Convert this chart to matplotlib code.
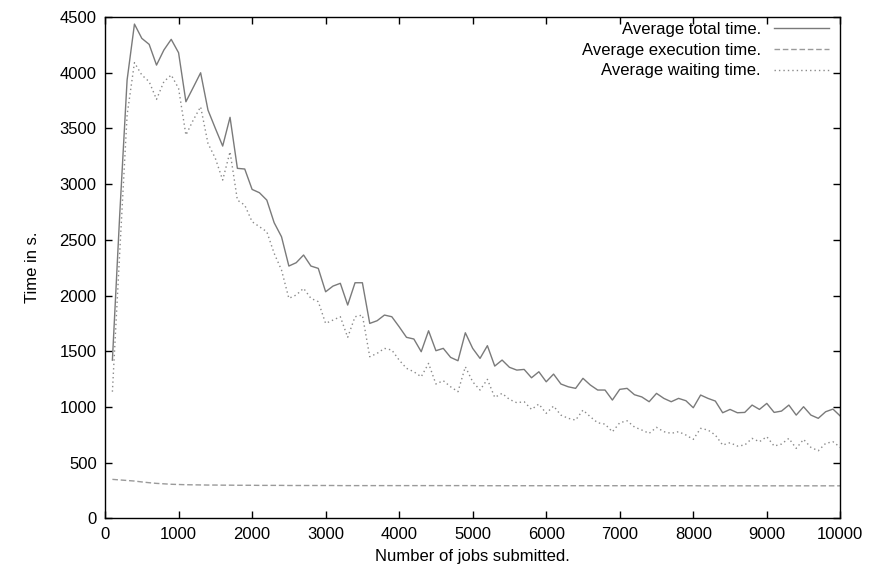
import matplotlib
matplotlib.use("Agg")
import matplotlib.pyplot as plt
import numpy as np

jobs = list(range(100, 10001, 100))

total_time = [
    1420, 2730, 3935, 4437, 4309, 4255, 4069, 4204, 4300, 4180,
    3740, 3869, 4000, 3665, 3501, 3342, 3600, 3142, 3136, 2953,
    2923, 2857, 2654, 2528, 2265, 2295, 2364, 2265, 2244, 2034,
    2085, 2110, 1915, 2115, 2115, 1750, 1774, 1825, 1810, 1720,
    1625, 1610, 1496, 1684, 1505, 1526, 1445, 1415, 1666, 1526,
    1436, 1550, 1367, 1421, 1356, 1331, 1337, 1262, 1316, 1226,
    1295, 1206, 1181, 1167, 1257, 1197, 1152, 1152, 1062, 1158,
    1167, 1110, 1090, 1047, 1122, 1077, 1047, 1077, 1056, 993,
    1107, 1077, 1053, 948, 978, 948, 951, 1017, 978, 1032,
    951, 963, 1017, 927, 1002, 927, 898, 957, 981, 918,
]

execution_time = [
    350, 345, 340, 335, 327, 320, 314, 310, 306, 304,
    302, 301, 300, 299, 299, 298, 298, 297, 297, 297,
    296, 296, 296, 296, 295, 295, 295, 295, 295, 295,
    295, 294, 294, 294, 294, 294, 294, 294, 294, 294,
    294, 294, 294, 294, 294, 294, 294, 294, 294, 294,
    293, 293, 293, 293, 293, 293, 293, 293, 293, 293,
    293, 293, 293, 293, 293, 293, 293, 293, 293, 293,
    293, 293, 293, 293, 293, 293, 293, 293, 293, 293,
    292, 292, 292, 292, 292, 292, 292, 292, 292, 292,
    292, 292, 292, 292, 292, 292, 292, 292, 292, 292,
]

waiting_time = [
    1137, 2390, 3620, 4091, 3980, 3920, 3761, 3920, 3980, 3860,
    3441, 3576, 3695, 3366, 3232, 3037, 3291, 2857, 2812, 2663,
    2618, 2573, 2379, 2229, 1975, 2005, 2065, 1975, 1945, 1750,
    1780, 1810, 1625, 1810, 1825, 1451, 1481, 1526, 1511, 1421,
    1347, 1316, 1271, 1391, 1206, 1236, 1181, 1137, 1361, 1226,
    1152, 1248, 1086, 1122, 1068, 1038, 1047, 978, 1026, 943,
    1008, 927, 898, 882, 972, 912, 858, 846, 777, 858,
    876, 820, 793, 763, 817, 778, 763, 778, 748, 709,
    808, 793, 748, 658, 679, 649, 658, 718, 688, 733,
    649, 667, 718, 628, 709, 637, 607, 673, 688, 637,
]

x_ticks = list(range(0, 10001, 1000))
y_ticks = list(range(0, 4501, 500))

plt.rcParams['font.family'] = ['Liberation Sans', 'DejaVu Sans']

fig = plt.figure(figsize=(8.79, 5.69), dpi=100)
ax = fig.add_axes([0.1195, 0.089, 0.8365, 0.881])

ax.plot(jobs, total_time, color='#7a7a7a', lw=1.0, linestyle='-',
        label='Average total time.')
ax.plot(jobs, execution_time, color='#9a9a9a', lw=1.0, linestyle=(0, (4, 2)),
        label='Average execution time.')
ax.plot(jobs, waiting_time, color='#8a8a8a', lw=1.0, linestyle=(0, (1, 2.2)),
        label='Average waiting time.')

ax.set_xlim(0, 10000)
ax.set_ylim(0, 4500)
ax.set_xticks(x_ticks)
ax.set_yticks(y_ticks)
ax.tick_params(direction='in', length=5, width=1.0, top=True, right=True,
               labelsize=12, pad=6)
for s in ax.spines.values():
    s.set_linewidth(1.0)

ax.set_xlabel('Number of jobs submitted.', fontsize=12, labelpad=5)
ax.set_ylabel('Time in s.', fontsize=12, labelpad=14)

leg = ax.legend(loc='upper right', bbox_to_anchor=(0.994, 1.004),
                frameon=False, markerfirst=False,
                fontsize=12, handlelength=3.3, handletextpad=0.8,
                labelspacing=0.35, borderaxespad=0.0)

fig.savefig('out.png', dpi=100)
